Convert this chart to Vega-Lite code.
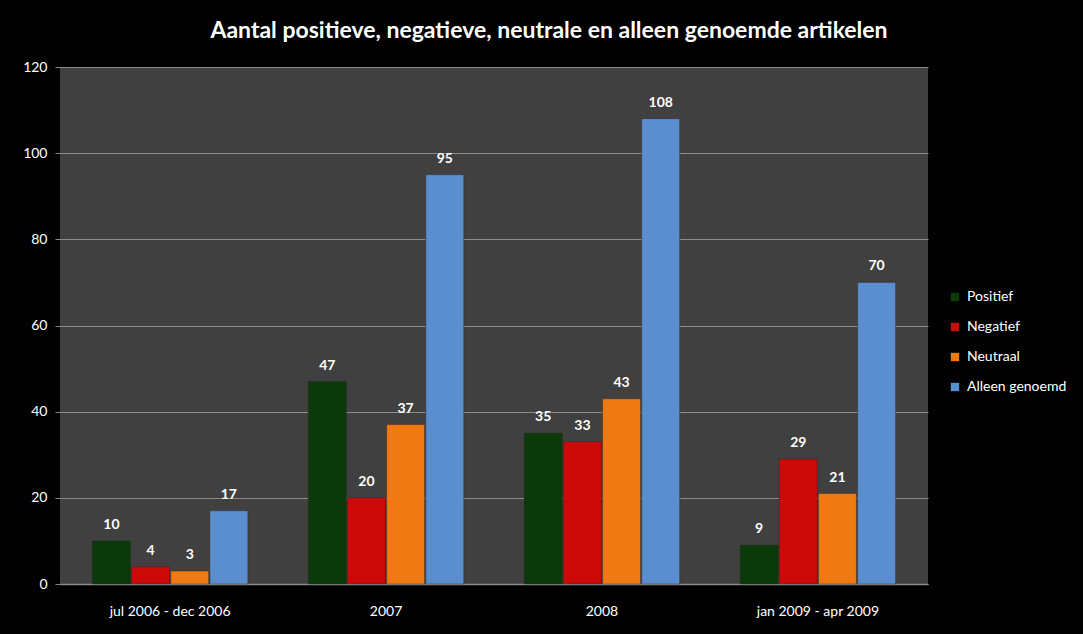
{
  "$schema": "https://vega.github.io/schema/vega-lite/v6.json",
  "autosize": {"type": "none"},
  "width": 868,
  "height": 517,
  "padding": {"left": 60, "top": 67, "right": 155, "bottom": 50},
  "background": "#000000",
  "title": {
    "text": "Aantal positieve, negatieve, neutrale en alleen genoemde artikelen",
    "color": "#ffffff",
    "font": "Lato",
    "fontSize": 23,
    "fontWeight": "bold",
    "anchor": "middle",
    "dx": 55,
    "offset": 17
  },
  "config": {
    "view": {"fill": "#404040", "stroke": null},
    "font": "Lato"
  },
  "data": {
    "values": [
      {"periode": "jul 2006 - dec 2006", "soort": "Positief", "aantal": 10},
      {"periode": "jul 2006 - dec 2006", "soort": "Negatief", "aantal": 4},
      {"periode": "jul 2006 - dec 2006", "soort": "Neutraal", "aantal": 3},
      {"periode": "jul 2006 - dec 2006", "soort": "Alleen genoemd", "aantal": 17},
      {"periode": "2007", "soort": "Positief", "aantal": 47},
      {"periode": "2007", "soort": "Negatief", "aantal": 20},
      {"periode": "2007", "soort": "Neutraal", "aantal": 37},
      {"periode": "2007", "soort": "Alleen genoemd", "aantal": 95},
      {"periode": "2008", "soort": "Positief", "aantal": 35},
      {"periode": "2008", "soort": "Negatief", "aantal": 33},
      {"periode": "2008", "soort": "Neutraal", "aantal": 43},
      {"periode": "2008", "soort": "Alleen genoemd", "aantal": 108},
      {"periode": "jan 2009 - apr 2009", "soort": "Positief", "aantal": 9},
      {"periode": "jan 2009 - apr 2009", "soort": "Negatief", "aantal": 29},
      {"periode": "jan 2009 - apr 2009", "soort": "Neutraal", "aantal": 21},
      {"periode": "jan 2009 - apr 2009", "soort": "Alleen genoemd", "aantal": 70}
    ]
  },
  "encoding": {
    "x": {
      "field": "periode",
      "type": "nominal",
      "sort": ["jul 2006 - dec 2006", "2007", "2008", "jan 2009 - apr 2009"],
      "scale": {"paddingInner": 0.28, "paddingOuter": 0.15},
      "axis": {
        "title": null,
        "labelAngle": 0,
        "labelColor": "#ffffff",
        "labelFontSize": 14,
        "labelPadding": 20,
        "ticks": false,
        "domainColor": "#8c8c8c",
        "domainWidth": 1.5
      }
    },
    "xOffset": {
      "field": "soort",
      "type": "nominal",
      "sort": ["Positief", "Negatief", "Neutraal", "Alleen genoemd"],
      "scale": {"paddingInner": 0.03}
    },
    "y": {
      "field": "aantal",
      "type": "quantitative",
      "scale": {"domain": [0, 120]},
      "axis": {
        "title": null,
        "values": [0, 20, 40, 60, 80, 100, 120],
        "labelColor": "#ffffff",
        "labelFontSize": 14,
        "labelPadding": 8,
        "tickColor": "#8c8c8c",
        "tickSize": 5,
        "domain": false,
        "gridColor": "#8c8c8c",
        "gridWidth": 1
      }
    }
  },
  "layer": [
    {
      "mark": {"type": "bar", "strokeWidth": 1, "stroke": "#222222", "strokeOpacity": 0.4},
      "encoding": {
        "color": {
          "field": "soort",
          "type": "nominal",
          "sort": ["Positief", "Negatief", "Neutraal", "Alleen genoemd"],
          "scale": {
            "domain": ["Positief", "Negatief", "Neutraal", "Alleen genoemd"],
            "range": ["#0a3a0a", "#cc0a0a", "#ef7a12", "#5b8ecf"]
          },
          "legend": {
            "title": null,
            "orient": "none",
            "legendX": 888,
            "legendY": 223,
            "symbolType": "square",
            "symbolSize": 70,
            "symbolStrokeWidth": 0,
            "labelColor": "#ffffff",
            "labelFontSize": 14,
            "labelOffset": 5,
            "rowPadding": 16
          }
        }
      }
    },
    {
      "mark": {
        "type": "text",
        "baseline": "bottom",
        "dy": -9,
        "color": "#ffffff",
        "fontSize": 14,
        "fontWeight": "bold"
      },
      "encoding": {
        "text": {"field": "aantal", "type": "quantitative"}
      }
    }
  ]
}
